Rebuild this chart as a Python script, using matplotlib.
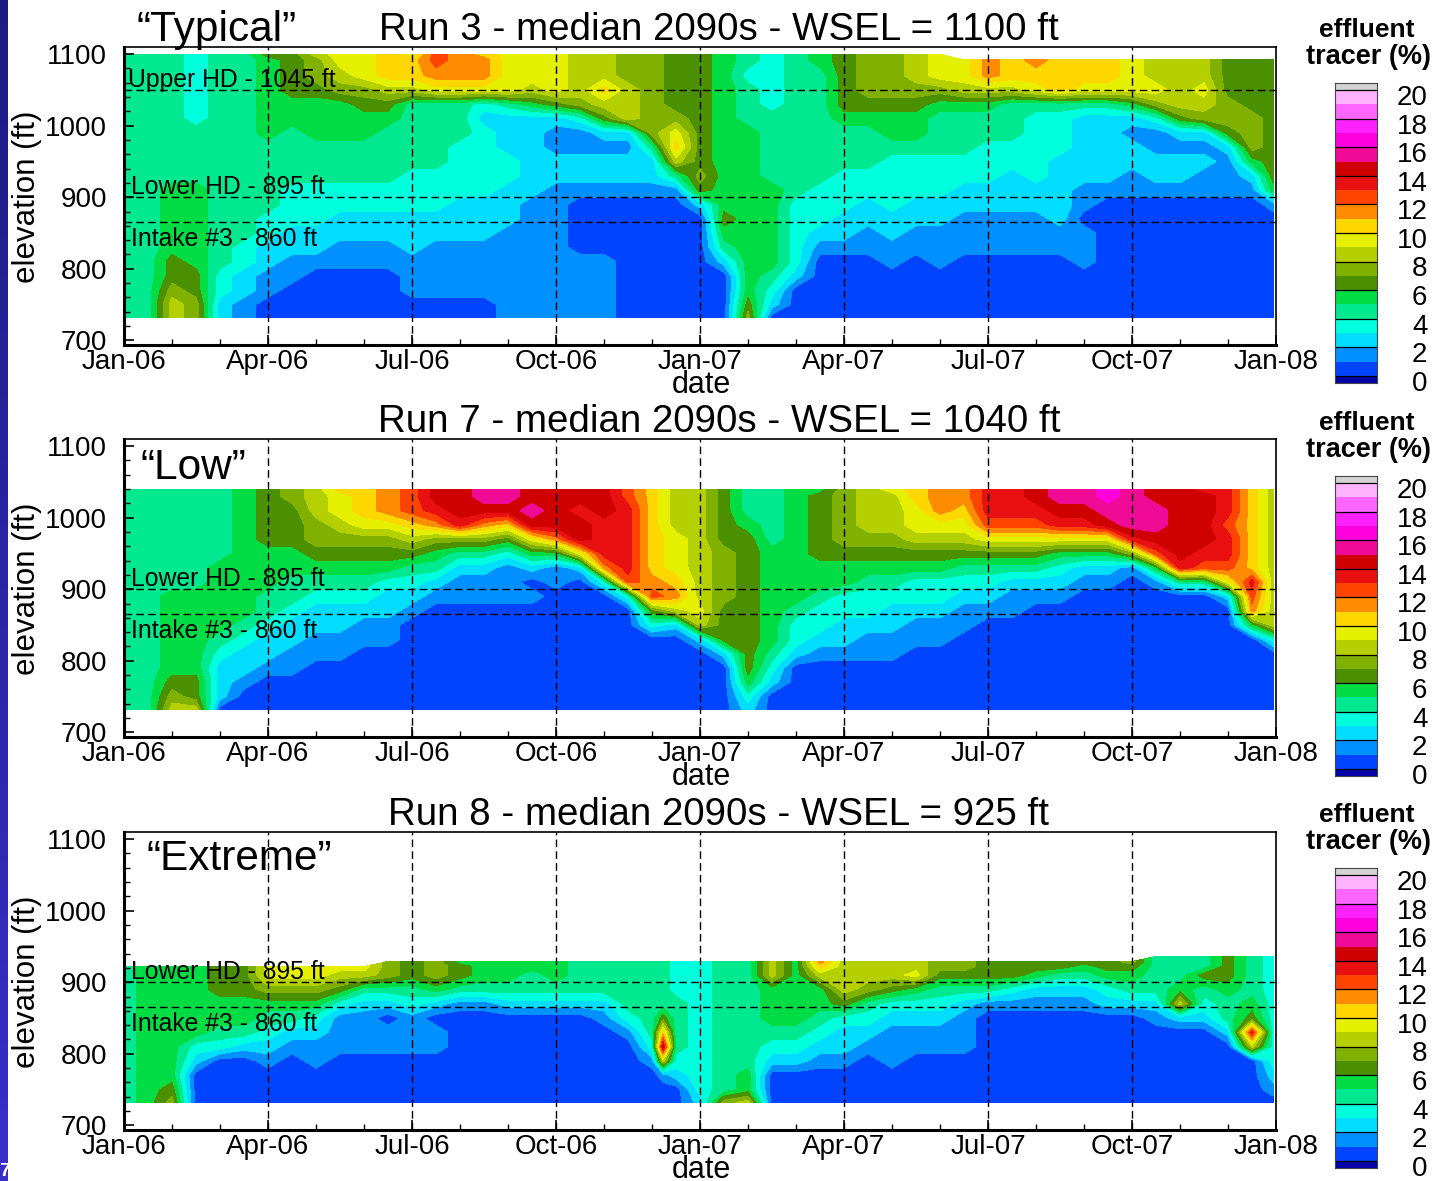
import numpy as np
import matplotlib
matplotlib.use('Agg')
import matplotlib.pyplot as plt

plt.rcParams['font.family'] = ['Liberation Sans', 'DejaVu Sans']

W, H = 1435, 1181
n = np.nan

titles = ['Run 3 - median 2090s - WSEL = 1100 ft',
          'Run 7 - median 2090s - WSEL = 1040 ft',
          'Run 8 - median 2090s - WSEL = 925 ft']
scenarios = ['\u201cTypical\u201d', '\u201cLow\u201d', '\u201cExtreme\u201d']
month_labels = ['Jan-06', 'Apr-06', 'Jul-06', 'Oct-06', 'Jan-07', 'Apr-07', 'Jul-07', 'Oct-07', 'Jan-08']

band_edges = [0, 0.5] + [i + 0.5 for i in range(1, 21)] + [21]
band_colors = ['#0000a8', '#0044ff', '#0090ff', '#00ddff', '#00ffdd', '#00e890', '#00dd44',
               '#4a9000', '#80b000', '#b5d000', '#e5f000', '#ffd700', '#ff8c00', '#ff4400',
               '#e81010', '#d00000', '#f00a96', '#ff00dd', '#ff22ff', '#ff66ff', '#ffb3ff', '#d4d4d4']

# half month stations, last one stops just short of Jan-08
months = [i * 0.5 for i in range(48)] + [23.94]
months3 = months[:23] + [11.23] + months[23:]

elev1 = [732, 750, 770, 790, 810, 830, 850, 870, 890, 910, 930, 950, 970, 990, 1010, 1030, 1050, 1070, 1092, 1100]
elev2 = [732, 750, 770, 790, 810, 830, 850, 870, 890, 910, 930, 950, 970, 990, 1010, 1030, 1040]
elev3 = [732, 750, 770, 790, 810, 830, 850, 870, 890, 910, 922, 929, 936]

# tracer % per station, bottom to top
run3 = [
    [5]*20,
    [5]*20,
    [9,9,8,7,7,6,6,6,6,6,5,5,5,5,5,5,5,5,5,5],
    [8,8,7,7,6,6,6,6,6,6,5,5,5,5,4,4,4,4,4,4],
    [3,3,4,4,5,5,5,5,5,5,5,5,5,5,5,5,5,5,5,5],
    [2,2,3,3,4,4,5,5,5,5,5,5,5,5,5,5,5,5,5,5],
    [1,1,2,2,3,3,4,4,5,5,5,5,5,6,6,6,6,6,6,7],
    [1,1,1,2,2,3,3,4,4,4,5,5,5,5,6,6,7,7,7,7],
    [1,1,1,1,2,3,3,4,4,4,5,5,5,6,6,6,7,8,8,9],
    [1,1,1,1,2,2,3,3,4,4,5,5,5,6,6,6,8,9,10,10],
    [1,1,1,1,2,2,3,3,4,4,5,5,5,6,6,7,8,10,10,10],
    [1,1,1,1,2,2,3,3,4,4,5,5,5,5,6,7,9,11,11,11],
    [1,1,2,2,2,3,3,3,4,4,4,5,5,5,5,5,9,11,11,10],
    [1,1,2,2,2,2,3,3,4,4,4,5,5,5,5,5,10,12,13,13],
    [1,1,2,2,2,2,3,3,3,4,4,4,4,5,5,5,10,12,12,12],
    [1,1,2,2,2,2,3,3,3,4,4,4,4,4,3,4,10,12,12,11],
    [2,2,2,2,2,2,2,3,3,3,4,4,3,3,3,5,10,10,10,10],
    [2,2,2,2,2,2,2,2,2,3,3,3,3,3,3,6,9,10,10,10],
    [2,2,2,2,2,2,2,2,2,2,3,3,2,2,3,7,10,10,10,10],
    [2,2,2,2,2,1,1,1,1,2,3,3,2,2,4,8,9,9,9,9],
    [2,2,2,2,2,1,1,1,1,2,3,3,2,3,7,9,11,9,9,9],
    [1,1,1,1,1,1,1,1,1,2,3,3,2,3,9,9,9,8,8,8],
    [1,1,1,1,1,1,1,1,1,2,3,3,5,8,8,8,8,8,8,8],
    [1,1,1,1,1,1,1,1,1,2,5,9,11,10,8,7,7,7,7,7],
    [1,1,1,1,1,1,1,1,3,7,8,7,7,7,7,7,7,7,7,7],
    [1,1,1,1,3,5,6,7,6,6,6,6,6,6,6,6,6,6,6,6],
    [8,7,6,6,6,6,6,6,6,6,6,6,6,6,5,5,5,4,5,5],
    [1,3,4,5,6,6,6,6,6,6,5,5,5,5,5,4,4,4,4,4],
    [1,1,1,3,4,4,4,4,4,5,5,5,5,5,5,5,5,5,5,5],
    [1,1,1,1,1,2,3,4,4,4,5,5,5,5,5,5,5,5,6,6],
    [1,1,1,1,1,2,3,3,4,4,4,5,5,5,6,7,7,7,7,7],
    [1,1,1,1,1,2,2,3,3,4,4,5,5,5,6,7,8,8,8,8],
    [1,1,1,1,2,2,3,3,4,4,4,4,5,6,6,7,8,8,8,8],
    [1,1,1,1,1,2,2,3,3,4,4,4,5,6,6,7,8,9,9,9],
    [1,1,1,1,2,2,2,3,3,4,4,4,5,5,5,6,8,10,10,10],
    [1,1,1,1,1,2,2,2,3,3,4,4,5,5,5,6,9,10,10,n],
    [1,1,1,1,1,2,2,2,3,3,4,4,4,5,5,6,9,12,12,n],
    [1,1,1,1,1,2,2,2,3,3,3,4,4,5,5,5,9,11,11,n],
    [1,1,1,1,1,2,2,2,3,3,4,4,4,4,4,5,10,11,12,n],
    [1,1,1,1,1,2,2,3,3,3,3,3,4,4,4,5,11,11,11,n],
    [1,1,1,1,2,2,2,1,2,2,3,3,3,3,3,5,10,11,11,n],
    [1,1,1,1,1,1,1,1,1,2,3,3,3,3,3,5,10,11,11,n],
    [1,1,1,1,1,1,1,1,1,2,2,3,3,2,3,6,10,10,10,n],
    [1,1,1,1,1,1,1,1,1,2,3,3,2,2,4,8,10,9,9,n],
    [1,1,1,1,1,1,1,1,1,2,3,3,2,3,7,9,9,9,9,n],
    [1,1,1,1,1,1,1,1,1,2,2,3,2,3,8,9,10,9,9,n],
    [1,1,1,1,1,1,1,1,1,2,2,2,3,7,8,8,7,7,7,n],
    [1,1,1,1,1,1,1,1,1,2,3,6,8,8,8,7,7,7,7,n],
    [1,1,1,1,1,1,1,1,2,6,7,7,7,7,7,7,7,7,7,n],
]

run7 = [
    [5]*17,
    [5]*17,
    [9,8,7,6,6,6,6,6,6,5,5,5,5,5,5,5,5],
    [9,7,7,6,6,6,6,6,6,5,5,5,5,5,5,5,5],
    [1,3,3,3,4,5,6,6,6,6,6,5,5,5,5,5,5],
    [1,1,2,3,3,4,5,6,6,6,6,6,6,6,6,6,6],
    [1,1,1,2,3,3,4,5,5,6,6,6,7,7,7,7,7],
    [1,1,1,2,2,3,3,4,5,5,6,6,7,7,7,8,8],
    [1,1,1,1,2,2,3,3,4,5,6,7,8,8,9,9,9],
    [1,1,1,1,2,2,3,3,4,5,6,7,8,9,10,10,11],
    [1,1,1,1,1,2,2,3,4,5,6,7,8,10,11,11,11],
    [1,1,1,1,1,2,2,3,3,4,6,7,8,10,12,12,12],
    [1,1,1,1,1,1,1,2,3,4,5,7,9,11,13,13,13],
    [1,1,1,1,1,1,1,1,2,3,5,6,8,12,14,15,15],
    [1,1,1,1,1,1,1,1,2,2,3,5,8,14,15,15,15],
    [1,1,1,1,1,1,1,1,2,2,3,5,8,12,15,16,16],
    [1,1,1,1,1,1,1,1,2,2,2,4,7,11,15,16,16],
    [1,1,1,1,1,1,1,1,2,1,3,6,10,15,16,15,15],
    [1,1,1,1,1,1,1,1,1,2,2,6,12,15,15,15,15],
    [1,1,1,1,1,1,1,1,1,1,3,10,15,15,14,15,15],
    [1,1,1,1,1,1,1,1,1,4,12,14,14,14,15,15,15],
    [1,1,1,1,1,1,1,1,4,13,14,14,14,14,14,13,13],
    [1,1,1,1,1,1,4,7,13,12,11,11,11,11,11,11,11],
    [1,1,1,1,1,1,3,9,12,11,10,10,10,9,9,9,9],
    [1,1,1,1,1,3,9,10,9,9,9,9,9,9,9,9,9],
    [1,1,1,1,3,7,7,7,8,8,8,8,7,7,7,7,7],
    [3,4,6,7,7,7,7,7,7,7,7,7,7,6,5,5,5],
    [1,1,3,4,5,6,6,6,6,6,6,6,5,5,5,5,5],
    [1,1,1,1,3,4,4,5,6,6,6,6,6,6,6,6,6],
    [1,1,1,1,2,3,4,4,5,6,6,7,7,7,7,7,6],
    [1,1,1,1,2,3,3,4,4,6,6,7,8,8,8,8,8],
    [1,1,1,1,2,2,3,4,4,5,6,7,8,9,9,9,9],
    [1,1,1,1,2,2,3,3,4,5,6,7,8,9,9,9,10],
    [1,1,1,1,1,2,2,3,4,4,6,7,9,10,10,11,11],
    [1,1,1,1,1,2,2,3,4,4,6,7,9,10,12,12,12],
    [1,1,1,1,1,1,2,2,3,4,5,7,9,10,11,12,12],
    [1,1,1,1,1,1,1,2,3,4,5,7,10,13,14,14,14],
    [1,1,1,1,1,1,1,2,2,3,5,7,10,13,14,14,14],
    [1,1,1,1,1,1,1,1,2,3,5,7,10,13,14,15,15],
    [1,1,1,1,1,1,1,1,2,3,4,6,10,14,15,16,16],
    [1,1,1,1,1,1,1,1,1,2,3,6,10,14,15,16,16],
    [1,1,1,1,1,1,1,1,1,2,3,6,10,15,16,17,17],
    [1,1,1,1,1,1,1,1,1,1,2,8,14,16,16,16,16],
    [1,1,1,1,1,1,1,1,1,2,6,13,15,16,16,15,15],
    [1,1,1,1,1,1,1,1,1,5,14,15,15,15,15,15,15],
    [1,1,1,1,1,1,1,1,1,5,13,14,15,15,15,15,14],
    [1,1,1,1,1,1,1,1,3,10,13,14,14,13,14,14,14],
    [1,1,1,1,1,1,6,12,13,14,11,11,11,11,11,11,11],
    [1,1,1,1,1,4,9,9,9,9,9,9,9,9,9,9,9],
]

run8 = [
    [5,5,5,5,5,5,5,5,5,5,5,n,n],
    [6,6,6,6,6,6,6,6,6,6,6,n,n],
    [8,7,6,6,6,6,6,6,6,6,6,n,n],
    [1,1,1,3,4,6,6,6,6,6,6,n,n],
    [1,1,1,1,4,5,6,6,7,7,7,n,n],
    [1,1,1,1,3,5,6,6,7,7,7,n,n],
    [1,1,1,2,3,4,5,6,8,10,10,n,n],
    [1,1,1,1,2,3,5,6,8,10,10,n,n],
    [1,1,1,2,2,3,4,6,8,10,10,n,n],
    [1,1,1,1,2,2,2,4,7,9,10,n,n],
    [1,1,1,1,2,2,2,3,5,9,10,n,n],
    [1,1,1,1,2,2,1,3,5,8,8,8,n],
    [1,1,1,1,2,2,2,4,5,7,7,7,n],
    [1,1,1,1,2,2,1,3,6,8,8,8,n],
    [1,1,1,1,1,1,1,2,5,7,7,6,n],
    [1,1,1,1,1,1,1,2,5,6,6,6,n],
    [1,1,1,1,1,1,1,3,5,6,6,6,n],
    [1,1,1,1,1,1,1,3,5,5,6,6,n],
    [1,1,1,1,1,1,1,3,5,6,6,6,n],
    [1,1,1,1,1,1,1,3,5,5,5,5,n],
    [1,1,1,1,1,1,2,3,5,5,5,5,n],
    [1,1,1,1,1,2,4,5,5,5,5,5,n],
    [1,1,1,2,4,5,5,5,5,5,5,5,n],
    [1,1,2,9,15,11,7,5,5,5,5,5,n],
    [1,1,3,4,5,5,5,5,4,4,4,4,n],
    [3,4,4,4,4,4,4,4,4,4,4,4,n],
    [8,5,5,5,5,5,5,5,5,5,5,5,n],
    [9,6,6,5,5,5,5,5,5,5,5,5,n],
    [1,1,1,3,4,5,6,6,6,9,9,9,n],
    [1,1,1,3,4,5,6,6,6,6,6,6,n],
    [1,1,1,2,3,4,5,6,6,9,11,12,n],
    [1,1,1,2,3,3,4,7,9,9,9,9,n],
    [1,1,1,1,2,3,4,5,8,9,9,9,n],
    [1,1,1,2,2,2,3,4,7,9,9,9,n],
    [1,1,1,1,2,2,3,4,6,10,9,9,n],
    [1,1,1,1,2,2,3,4,5,7,8,8,n],
    [1,1,1,1,2,2,2,3,5,7,8,8,n],
    [1,1,1,1,1,1,1,2,5,7,7,7,n],
    [1,1,1,1,1,1,1,2,4,7,7,7,n],
    [1,1,1,1,1,1,1,2,3,6,7,7,n],
    [1,1,1,1,1,1,1,2,3,5,7,7,n],
    [1,1,1,1,1,1,1,2,3,5,6,7,n],
    [1,1,1,1,1,1,1,3,4,6,7,7,n],
    [1,1,1,1,1,1,1,3,5,6,7,8,n],
    [1,1,1,1,1,1,2,3,5,5,5,5,5],
    [1,1,1,1,1,1,3,9,6,5,5,5,5],
    [1,1,1,1,1,1,3,4,5,7,5,5,5],
    [1,1,1,1,1,3,5,5,6,7,7,7,7],
    [1,1,1,1,9,14,7,6,5,5,5,5,5],
    [1,2,3,4,4,4,4,4,4,4,4,4,4],
]

panel_data = [(months, elev1, run3), (months, elev2, run7), (months3, elev3, run8)]
intakes = [[1050, 900, 865], [900, 865], [900, 865]]
intake_text = {1050: 'Upper HD - 1045 ft', 900: 'Lower HD - 895 ft', 865: 'Intake #3 - 860 ft'}
intake_ypos = {1050: 1064, 900: 915, 865: 841}
panel_tops = [47, 439, 832]
bar_tops = [83, 476, 868]
scen_pos = [(137, 30), (140, 468), (147, 859)]


def add_axes_px(fig, left, top, width, height):
    return fig.add_axes([left / W, 1 - (top + height) / H, width / W, height / H])


def fig_text(fig, x, y, s, **kw):
    fig.text(x / W, 1 - y / H, s, va='center', **kw)


fig = plt.figure(figsize=(W / 100, H / 100), dpi=100)

# slide edge on the left
strip = add_axes_px(fig, 0, 0, 8, H)
strip.imshow(np.linspace(0, 1, 200).reshape(-1, 1), aspect='auto',
             cmap=matplotlib.colors.LinearSegmentedColormap.from_list('s', ['#1c1c80', '#3a2ec8']))
strip.axis('off')
fig_text(fig, -1, 1172, '7', color='white', fontsize=14, fontweight='bold')

for p in range(3):
    top = panel_tops[p]
    x_vals, z_vals, cols = panel_data[p]
    ax = add_axes_px(fig, 124, top, 1152, 298)
    values = np.array(cols, dtype=float).T
    ax.contourf(x_vals, z_vals, values, levels=band_edges, colors=band_colors)
    ax.set_xlim(0, 24)
    ax.set_ylim(693.5, 1110)

    ax.set_xticks(range(0, 25, 3))
    ax.set_xticks(range(0, 25), minor=True)
    ax.set_xticklabels(month_labels)
    ax.set_yticks([700, 800, 900, 1000, 1100])
    ax.set_yticks(range(700, 1101, 20), minor=True)
    ax.tick_params(axis='both', which='major', direction='in', length=7, width=1.2, labelsize=20)
    ax.tick_params(axis='both', which='minor', direction='in', length=4, width=1)
    ax.tick_params(axis='x', which='major', pad=3)
    ax.tick_params(axis='y', which='major', pad=12)
    for s in ['left', 'bottom']:
        ax.spines[s].set_linewidth(2.2)
    for s in ['top', 'right']:
        ax.spines[s].set_linewidth(1.2)

    for m in range(3, 24, 3):
        ax.axvline(m, color='black', lw=1, ls=(0, (5.5, 3)))
    for e in intakes[p]:
        ax.axhline(e, color='black', lw=1, ls=(0, (5.5, 3)))
        ax.text(0.08 if e == 1050 else 0.15, intake_ypos[e], intake_text[e], fontsize=17.8, va='center')

    fig_text(fig, 719, top - 17, titles[p], fontsize=27.7, ha='center')
    fig_text(fig, scen_pos[p][0], scen_pos[p][1], scenarios[p], fontsize=30.5, ha='left')
    fig_text(fig, 701, top + 338, 'date', fontsize=22, ha='center')
    fig_text(fig, 27, top + 150, 'elevation (ft)', fontsize=22.5, ha='center', rotation=90)

    # colour key
    bar_top = bar_tops[p]
    cax = add_axes_px(fig, 1335, bar_top, 42, 300)
    for k in range(len(band_colors)):
        cax.bar(0.5, band_edges[k + 1] - band_edges[k], width=1, bottom=band_edges[k], color=band_colors[k])
    for e in band_edges[1::2][:11]:
        cax.axhline(e, color='black', lw=0.9)
    cax.set_xlim(0, 1)
    cax.set_ylim(0, 21)
    cax.set_xticks([])
    cax.set_yticks([])
    for v in range(0, 21, 2):
        cax.text(2.2, v - 0.05, str(v), fontsize=20, ha='right', va='center', clip_on=False)
    for s in cax.spines.values():
        s.set_linewidth(0.8)
        s.set_color('#444444')
    fig_text(fig, 1367, bar_top - 53, 'effluent', fontsize=19, fontweight='bold', ha='center')
    fig_text(fig, 1369, bar_top - 26, 'tracer (%)', fontsize=19.5, fontweight='bold', ha='center')

fig.savefig('out.png', dpi=100)
